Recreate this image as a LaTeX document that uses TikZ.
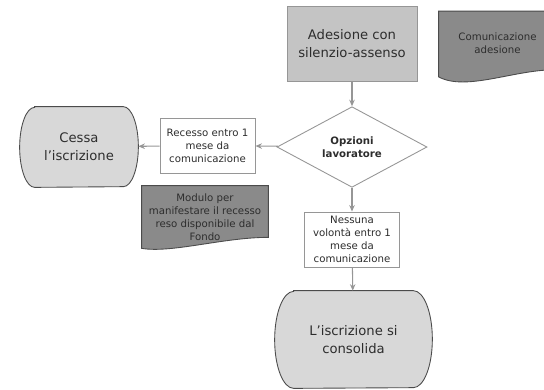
\documentclass[tikz,border=0pt]{standalone}
\usepackage{fontspec}
\setmainfont{DejaVu Sans}
\usetikzlibrary{shapes.geometric,arrows.meta,positioning,calc,backgrounds}
\definecolor{cText}{RGB}{45,45,45}
\definecolor{cLine}{RGB}{150,150,150}
\definecolor{cStart}{RGB}{196,196,196}
\definecolor{cDoc}{RGB}{138,138,138}
\definecolor{cEnd}{RGB}{216,216,216}
\definecolor{cEdge}{RGB}{75,75,75}

\begin{document}
\begin{tikzpicture}[
    bigtxt/.style={font=\fontsize{7.5}{10.2}\selectfont},
    smalltxt/.style={font=\fontsize{5.8}{7.4}\selectfont},
    box/.style={rectangle, draw=cLine, fill=white, minimum width=1.9cm,
                minimum height=1.1cm, align=center, text=cText, smalltxt,
                inner sep=1pt, line width=0.5pt},
    start/.style={rectangle, draw=cLine, fill=cStart, minimum width=2.6cm,
                  minimum height=1.5cm, align=center, text=cText, bigtxt,
                  line width=0.5pt},
    % terminator: outline drawn below on the background layer
    terminal/.style={rectangle, align=center, text=cText, bigtxt, inner sep=0pt},
    termline/.style={draw=cEdge, fill=cEnd, line width=0.5pt},
    choice/.style={diamond, draw=cLine, fill=white, minimum width=3cm,
                   minimum height=1.6cm, inner sep=0pt, align=center,
                   text=cText, font=\bfseries\fontsize{5.8}{7.4}\selectfont,
                   line width=0.5pt},
    docbox/.style={rectangle, align=center, text=cText, smalltxt, inner sep=0pt},
    docline/.style={draw=cEdge, fill=cDoc, line width=0.5pt},
    flow/.style={-{Stealth[length=1.3mm,width=1.1mm]}, draw=cLine, line width=0.6pt},
]
\useasboundingbox (0,0) rectangle (10.88,-7.78);

% --- main column
\node[start] (adesione) at (7.04,-0.87) {Adesione con\\silenzio-assenso};
\node[choice] (opzioni) at (7.04,-2.94) {Opzioni\\lavoratore};
\node[box] (nessuna) at (7.04,-4.79)
    {Nessuna\\volontà entro 1\\mese da\\comunicazione};
\node[terminal, minimum width=3.14cm, minimum height=1.94cm] (consolida)
    at (7.07,-6.79) {L’iscrizione si\\consolida};

% --- left branch
\node[box] (recesso) at (4.15,-2.91) {Recesso entro 1\\mese da\\comunicazione};
\node[terminal, minimum width=2.36cm, minimum height=1.6cm] (cessa)
    at (1.58,-2.94) {Cessa\\l’iscrizione};

% --- documents (wavy bottom edge)
\node[docbox, minimum width=2.34cm, minimum height=1.3cm] (comm)
    at (9.95,-0.88) {\\[-4pt]Comunicazione\\adesione};
\node[docbox, minimum width=2.52cm, minimum height=1.24cm] (modulo)
    at (4.10,-4.34) {Modulo per\\manifestare il recesso\\reso disponibile dal\\Fondo};

\begin{scope}[on background layer]
\path[docline] (comm.north west) -- (comm.north east)
    -- ([yshift=0.14cm]comm.south east)
    .. controls ([xshift=-0.8cm,yshift=0.16cm]comm.south east)
    and ([xshift=0.55cm,yshift=-0.3cm]comm.south west) .. (comm.south west)
    -- cycle;
\path[docline] (modulo.north west) -- (modulo.north east)
    -- ([yshift=0.22cm]modulo.south east)
    .. controls ([xshift=-0.9cm,yshift=0.22cm]modulo.south east)
    and ([xshift=0.6cm,yshift=-0.1cm]modulo.south west) .. (modulo.south west)
    -- cycle;
\path[termline] ([xshift=0.3cm]cessa.north west) -- ([xshift=-0.3cm]cessa.north east)
    arc[start angle=90, end angle=-90, x radius=0.3cm, y radius=0.8cm]
    -- ([xshift=0.3cm]cessa.south west)
    arc[start angle=270, end angle=90, x radius=0.3cm, y radius=0.8cm] -- cycle;
\path[termline] ([xshift=0.38cm]consolida.north west) -- ([xshift=-0.38cm]consolida.north east)
    arc[start angle=90, end angle=-90, x radius=0.38cm, y radius=0.97cm]
    -- ([xshift=0.38cm]consolida.south west)
    arc[start angle=270, end angle=90, x radius=0.38cm, y radius=0.97cm] -- cycle;
\end{scope}

% --- connectors
\draw[flow] (adesione) -- (opzioni);
\draw[flow] (opzioni) -- (recesso);
\draw[flow] (recesso) -- (cessa);
\draw[flow] (opzioni) -- (nessuna);
\draw[flow] (nessuna) -- (consolida);
\end{tikzpicture}
\end{document}
